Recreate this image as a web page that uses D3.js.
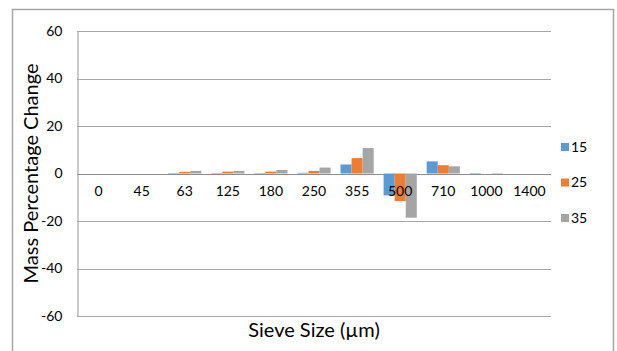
<!DOCTYPE html>
<html>
<head>
<meta charset="utf-8">
<script src="https://cdn.jsdelivr.net/npm/d3@7"></script>
<style>
  html, body { margin: 0; padding: 0; background: #fff; }
  svg { display: block; font-family: Lato, "Liberation Sans", sans-serif; }
</style>
</head>
<body>
<svg id="chart" width="617" height="351"></svg>
<script>
// Sieve sizes (µm) and mass percentage change per series
const categories = ["0", "45", "63", "125", "180", "250", "355", "500", "710", "1000", "1400"];
const seriesNames = ["15", "25", "35"];
const values15 = [0, 0, 0.2, 0.2, 0.2, 0.3, 3.8, -9.2, 5.1, -0.2, 0];
const values25 = [0, 0, 0.7, 0.8, 0.8, 1.1, 6.5, -11.6, 3.5, 0, 0];
const values35 = [0, 0, 1.1, 1.1, 1.5, 2.5, 10.7, -18.6, 3.0, -0.2, 0];
const yTicks = [-60, -40, -20, 0, 20, 40, 60];
const colors = ["#5b9bd5", "#ed7d31", "#a5a5a5"];

const seriesValues = [values15, values25, values35];
const rows = categories.map((c, i) => ({
  cat: c,
  vals: seriesNames.map((s, j) => ({ key: s, value: seriesValues[j][i] }))
}));

const svg = d3.select("#chart");
const plot = { left: 77, right: 551, top: 31, bottom: 316 };
const font = "Lato, 'Liberation Sans', sans-serif";

// Chart frame
svg.append("rect")
  .attr("x", 12.5).attr("y", 9.5)
  .attr("width", 601).attr("height", 350)
  .attr("fill", "#fff").attr("stroke", "#a6a6a6").attr("stroke-width", 1.5);

const x0 = d3.scaleBand().domain(categories)
  .range([plot.left, plot.right]).paddingInner(0.23).paddingOuter(0.115);
const x1 = d3.scaleBand().domain(seriesNames).range([0, x0.bandwidth()]);
const y = d3.scaleLinear().domain([-60, 60]).range([plot.bottom, plot.top]);
const color = d3.scaleOrdinal().domain(seriesNames).range(colors);

// Horizontal gridlines
svg.append("g").selectAll("line").data(yTicks).join("line")
  .attr("x1", plot.left).attr("x2", plot.right)
  .attr("y1", d => Math.round(y(d)) + 0.5).attr("y2", d => Math.round(y(d)) + 0.5)
  .attr("stroke", d => d === 0 ? "#8c8c8c" : "#a6a6a6").attr("stroke-width", 1.2);

// Y axis
const yAxis = d3.axisLeft(y).tickValues(yTicks).tickFormat(d => String(d))
  .tickSize(0).tickPadding(15);
const gy = svg.append("g").attr("transform", `translate(${plot.left + 0.5},0)`).call(yAxis);
gy.select(".domain").attr("stroke", "#a6a6a6").attr("stroke-width", 1.2);
gy.selectAll("text").attr("font-size", 14).attr("fill", "#000").attr("font-family", font);

// Bars
svg.append("g").selectAll("g").data(rows).join("g")
  .attr("transform", d => `translate(${x0(d.cat)},0)`)
  .selectAll("rect").data(d => d.vals).join("rect")
  .attr("x", d => x1(d.key))
  .attr("width", x1.bandwidth())
  .attr("y", d => y(Math.max(0, d.value)))
  .attr("height", d => Math.abs(y(d.value) - y(0)))
  .attr("fill", d => color(d.key));

// Category labels, sitting just below the zero line
const xAxis = d3.axisBottom(x0).tickSize(0).tickPadding(13);
const gx = svg.append("g").attr("transform", `translate(0,${y(0)})`).call(xAxis);
gx.select(".domain").remove();
gx.selectAll("text").attr("font-size", 14).attr("fill", "#000").attr("font-family", font);

// Axis titles
svg.append("text")
  .attr("x", (plot.left + plot.right) / 2).attr("y", 337)
  .attr("text-anchor", "middle").attr("font-size", 20).attr("fill", "#000")
  .text("Sieve Size (µm)");
svg.append("text")
  .attr("transform", `translate(38,${y(0)}) rotate(-90)`)
  .attr("text-anchor", "middle").attr("font-size", 20).attr("fill", "#000")
  .text("Mass Percentage Change");

// Legend
const legend = svg.append("g").selectAll("g").data(seriesNames).join("g")
  .attr("transform", (d, i) => `translate(561,${147 + i * 35.5})`);
legend.append("rect").attr("x", 0).attr("y", -4).attr("width", 8).attr("height", 8)
  .attr("fill", d => color(d));
legend.append("text").attr("x", 10).attr("y", 0).attr("dy", "0.35em")
  .attr("font-size", 14).attr("fill", "#000").text(d => d);
</script>
</body>
</html>
